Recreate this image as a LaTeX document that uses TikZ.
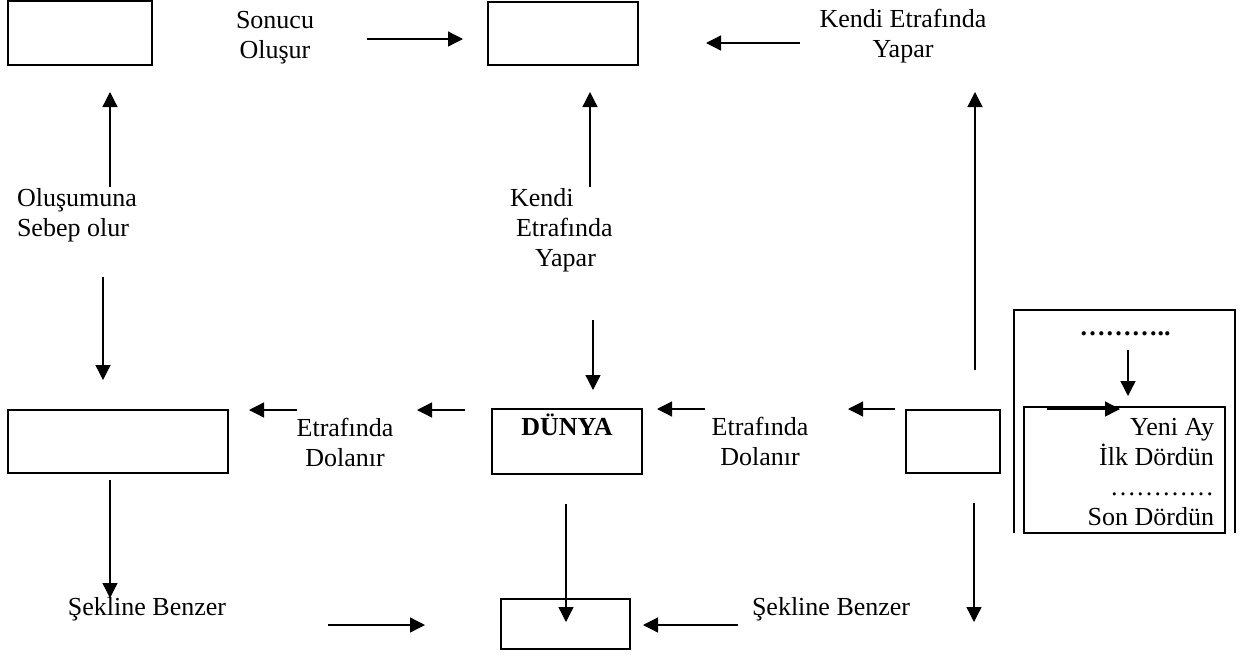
\documentclass[tikz,border=0pt]{standalone}
\usepackage{fontspec}
\setmainfont{Liberation Serif}
\usepackage{tikz}
\usetikzlibrary{
  arrows.meta,
}

\begin{document}
\begin{tikzpicture}[
  x=1pt, y=-1pt,
  every node/.style={
    font=\fontsize{26}{30}\selectfont,
    inner sep=0pt,
    outer sep=0pt,
  },
  box/.style={
    draw,
    line width=2pt,
    minimum width=#1,
  },
  label text/.style={
    anchor=base,
    align=center,
  },
  flow/.style={
    line width=1.3pt,
    -{Triangle[length=15pt,width=15pt]},
  },
  ]
  \useasboundingbox (0,0) rectangle (1253,654);
  % boxes
  \node [box=144pt, minimum height=64pt, name=node-top-left] at (80,33) {};
  \node [box=150pt, minimum height=63pt, name=node-top-mid] at (563,33) {};
  \node [box=220pt, minimum height=63pt, name=node-mid-left] at (118,441.5) {};
  \node [box=150pt, minimum height=65pt, name=node-dunya] at (567,441.5) {};
  \node [box=129pt, minimum height=50pt, name=node-bottom] at (565.5,624) {};
  \node [box=94pt, minimum height=63pt, name=node-mid-right] at (953,441.5) {};
  \node [minimum width=221pt, minimum height=223pt, name=node-phases] at (1124.5,421.5) {};
  \draw [line width=2pt]
  (node-phases.south west) |- (node-phases.north east) -- (node-phases.south east);
  \node [box=201pt, minimum height=126pt, name=node-phase-list] at (1124.5,470) {};
  % texts (base = last line)
  \node [label text, name=node-sonucu] at (275,58) {Sonucu\\Oluşur};
  \node [label text, name=node-kendi-top] at (903,57) {Kendi Etrafında\\Yapar};
  \node [anchor=base west, align=left, name=node-olusum] at (17,236)
  {Oluşumuna\\Sebep olur};
  \node [anchor=base west, align=left, name=node-kendi-mid] at (510,266)
  {Kendi\\\hspace*{6pt}Etrafında\\\hspace*{25pt}Yapar};
  \node [label text, name=node-dolanir-left] at (345,466) {Etrafında\\Dolanır};
  \node [label text, name=node-dolanir-right] at (760,465) {Etrafında\\Dolanır};
  \node [label text, font=\fontsize{26}{30}\selectfont\bfseries] at (node-dunya.north)
  [yshift=-26pt] {DÜNYA};
  \node [anchor=base, name=node-sekil-left] at (147,615) {Şekline Benzer};
  \node [anchor=base west, name=node-sekil-right] at (752,615) {Şekline Benzer};
  \node [anchor=base, name=node-dots, font=\fontsize{26}{30}\selectfont\bfseries]
  at (1125,335) {………..};
  \node [anchor=base east, align=right, name=node-phase-names] at (1214,525)
  {Yeni Ay\\İlk Dördün\\…………\\Son Dördün};
  % arrow ends
  \coordinate (sonucu-from) at (367,39);
  \coordinate (sonucu-to) at (463,39);
  \coordinate (kendi-top-from) at (800,43);
  \coordinate (kendi-top-to) at (706,43);
  \coordinate (olusum-up-from) at (110,187);
  \coordinate (olusum-up-to) at (110,92);
  \coordinate (olusum-down-from) at (103,277);
  \coordinate (olusum-down-to) at (103,380);
  \coordinate (kendi-up-from) at (590,187);
  \coordinate (kendi-up-to) at (590,92);
  \coordinate (kendi-down-from) at (593,320);
  \coordinate (kendi-down-to) at (593,390);
  \coordinate (right-up-from) at (975,370);
  \coordinate (right-up-to) at (975,92);
  \coordinate (dolanir-a-from) at (297,410);
  \coordinate (dolanir-a-to) at (249,410);
  \coordinate (dolanir-b-from) at (465,410);
  \coordinate (dolanir-b-to) at (417,410);
  \coordinate (dolanir-c-from) at (705,409);
  \coordinate (dolanir-c-to) at (657,409);
  \coordinate (dolanir-d-from) at (895,409);
  \coordinate (dolanir-d-to) at (848,409);
  \coordinate (sekil-down-from) at (110,480);
  \coordinate (sekil-down-to) at (110,598);
  \coordinate (sekil-left-from) at (328,625);
  \coordinate (sekil-left-to) at (425,625);
  \coordinate (dunya-down-from) at (566,504);
  \coordinate (dunya-down-to) at (566,622);
  \coordinate (sekil-right-from) at (738,625);
  \coordinate (sekil-right-to) at (643,625);
  \coordinate (right-down-from) at (974,503);
  \coordinate (right-down-to) at (974,622);
  \coordinate (dots-down-from) at (1128,350);
  \coordinate (dots-down-to) at (1128,396);
  \coordinate (phase-in-from) at (1047,409);
  \coordinate (phase-in-to) at (1120,409);
  % arrows
  \draw [flow] (sonucu-from) -- (sonucu-to);
  \draw [flow] (kendi-top-from) -- (kendi-top-to);
  \draw [flow] (olusum-up-from) -- (olusum-up-to);
  \draw [flow] (olusum-down-from) -- (olusum-down-to);
  \draw [flow] (kendi-up-from) -- (kendi-up-to);
  \draw [flow] (kendi-down-from) -- (kendi-down-to);
  \draw [flow] (right-up-from) -- (right-up-to);
  \draw [flow] (dolanir-a-from) -- (dolanir-a-to);
  \draw [flow] (dolanir-b-from) -- (dolanir-b-to);
  \draw [flow] (dolanir-c-from) -- (dolanir-c-to);
  \draw [flow] (dolanir-d-from) -- (dolanir-d-to);
  \draw [flow] (sekil-down-from) -- (sekil-down-to);
  \draw [flow] (sekil-left-from) -- (sekil-left-to);
  \draw [flow] (dunya-down-from) -- (dunya-down-to);
  \draw [flow] (sekil-right-from) -- (sekil-right-to);
  \draw [flow] (right-down-from) -- (right-down-to);
  \draw [flow] (dots-down-from) -- (dots-down-to);
  \draw [flow] (phase-in-from) -- (phase-in-to);
\end{tikzpicture}
\end{document}
